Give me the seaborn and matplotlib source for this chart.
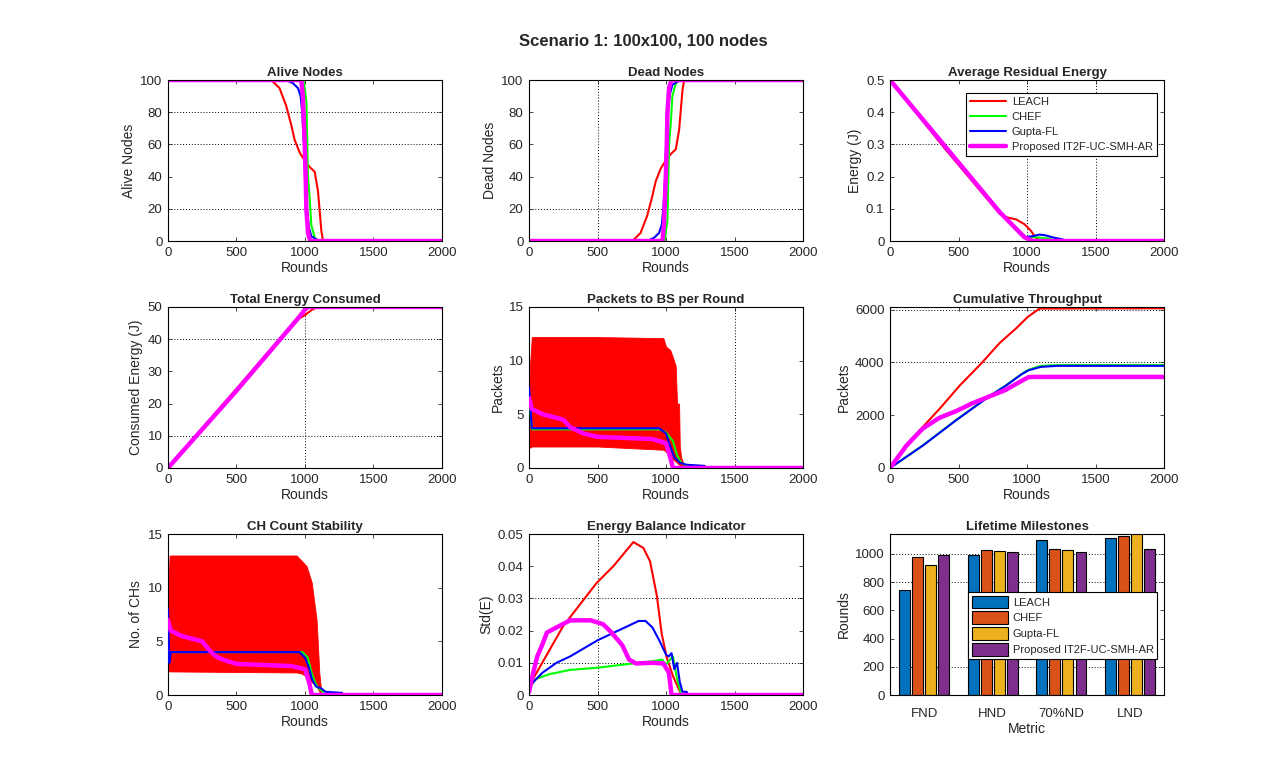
import pandas as pd
import matplotlib
matplotlib.use('Agg')
import matplotlib.pyplot as plt
from matplotlib.ticker import FuncFormatter
import seaborn as sns

protocols = ['LEACH', 'CHEF', 'Gupta-FL', 'Proposed IT2F-UC-SMH-AR']
line_colors = ['#FF0000', '#00FF00', '#0000FF', '#FF00FF']
line_widths = [1.5, 1.5, 1.5, 3.2]

# alive nodes (round, value)
alive_x = {
    'LEACH': [0, 753, 814, 863, 900, 924, 961, 998, 1034, 1071, 1083, 1095, 1108, 1120, 1132, 2000],
    'CHEF': [0, 990, 1010, 1022, 1034, 1046, 1071, 1100, 2000],
    'Gupta-FL': [0, 863, 912, 949, 968, 980, 993, 1000, 1010, 1030, 1046, 1083, 1108, 2000],
    'Proposed IT2F-UC-SMH-AR': [0, 973, 985, 998, 1005, 1010, 1022, 1039, 2000],
}
alive_y = {
    'LEACH': [100, 100, 95, 84, 72, 63, 55, 50, 46, 43, 37, 31, 18, 6, 0, 0],
    'CHEF': [100, 100, 87, 40, 27, 10, 2, 0, 0],
    'Gupta-FL': [100, 100, 98, 95, 90, 80, 60, 40, 20, 8, 3, 1, 0, 0],
    'Proposed IT2F-UC-SMH-AR': [100, 100, 90, 60, 40, 20, 5, 0, 0],
}
n_nodes = 100

# average residual energy per node (J)
resid_x = {
    'LEACH': [0, 400, 800, 848, 921, 982, 1030, 1054, 1079, 1100, 2000],
    'CHEF': [0, 400, 800, 990, 1050, 1150, 1200, 1230, 2000],
    'Gupta-FL': [0, 400, 800, 990, 1040, 1090, 1130, 1200, 1260, 1290, 2000],
    'Proposed IT2F-UC-SMH-AR': [0, 400, 800, 980, 1040, 2000],
}
resid_y = {
    'LEACH': [0.5, 0.287, 0.085, 0.074, 0.067, 0.052, 0.031, 0.015, 0.005, 0.0, 0.0],
    'CHEF': [0.5, 0.293, 0.093, 0.012, 0.012, 0.008, 0.003, 0.0, 0.0],
    'Gupta-FL': [0.5, 0.29, 0.09, 0.012, 0.015, 0.02, 0.018, 0.01, 0.005, 0.0, 0.0],
    'Proposed IT2F-UC-SMH-AR': [0.5, 0.295, 0.09, 0.012, 0.0, 0.0],
}

# total energy consumed (J)
total_x = {
    'LEACH': [0, 500, 900, 960, 1000, 1040, 1070, 1100, 2000],
    'CHEF': [0, 500, 950, 1000, 1020, 1040, 2000],
    'Gupta-FL': [0, 500, 950, 1000, 1020, 1040, 2000],
    'Proposed IT2F-UC-SMH-AR': [0, 500, 950, 1000, 1015, 1030, 2000],
}
total_y = {
    'LEACH': [0, 24.6, 44.2, 46.5, 47.5, 48.8, 49.6, 50, 50],
    'CHEF': [0, 24.2, 46.5, 49.0, 49.7, 50, 50],
    'Gupta-FL': [0, 24.3, 46.6, 49.0, 49.7, 50, 50],
    'Proposed IT2F-UC-SMH-AR': [0, 24.0, 46.5, 49.2, 49.9, 50, 50],
}

# packets to BS per round
pkt_x = {
    'CHEF': [0, 20, 300, 600, 950, 1000, 1050, 1080, 1110, 1150, 1200, 2000],
    'Gupta-FL': [0, 20, 300, 600, 950, 1000, 1030, 1060, 1100, 1150, 1280, 1290, 2000],
    'Proposed IT2F-UC-SMH-AR': [0, 20, 100, 250, 300, 400, 500, 700, 900, 1000, 1030, 1050, 2000],
}
pkt_y = {
    'CHEF': [7.0, 3.6, 3.6, 3.6, 3.6, 3.3, 2.5, 1.2, 0.5, 0.2, 0.0, 0.0],
    'Gupta-FL': [7.5, 3.7, 3.7, 3.7, 3.7, 3.2, 2.0, 1.0, 0.5, 0.3, 0.2, 0.0, 0.0],
    'Proposed IT2F-UC-SMH-AR': [6.5, 5.5, 5.0, 4.5, 3.8, 3.2, 2.9, 2.8, 2.7, 2.3, 1.0, 0.0, 0.0],
}
pkt_leach_x = [0, 10, 20, 500, 980, 1000, 1030, 1050, 1070, 1080, 1095, 1100, 1110, 1130, 1140, 2000]
pkt_leach_hi = [7.8, 10.2, 12.2, 12.2, 12.1, 11.3, 11.0, 10.3, 9.5, 6.0, 6.0, 2.0, 1.0, 0.3, 0.0, 0.0]
pkt_leach_lo = [1.9, 1.9, 2.0, 2.0, 1.7, 1.5, 1.0, 0.8, 0.6, 0.5, 0.3, 0.3, 0.1, 0.0, 0.0, 0.0]

# cumulative throughput
thr_x = {
    'LEACH': [0, 121, 364, 509, 667, 800, 921, 1006, 1091, 2000],
    'CHEF': [0, 240, 480, 720, 840, 960, 1010, 1100, 1220, 2000],
    'Gupta-FL': [0, 240, 480, 720, 840, 960, 1010, 1100, 1220, 2000],
    'Proposed IT2F-UC-SMH-AR': [0, 120, 240, 360, 480, 600, 720, 840, 960, 1010, 1040, 2000],
}
thr_y = {
    'LEACH': [0, 893, 2257, 3125, 3968, 4737, 5295, 5729, 6040, 6050],
    'CHEF': [0, 860, 1810, 2710, 3110, 3560, 3720, 3870, 3900, 3900],
    'Gupta-FL': [0, 850, 1800, 2700, 3100, 3550, 3700, 3830, 3870, 3870],
    'Proposed IT2F-UC-SMH-AR': [0, 850, 1500, 1900, 2150, 2450, 2700, 2950, 3300, 3440, 3450, 3450],
}

# cluster head count
ch_x = {
    'CHEF': [0, 980, 1020, 1050, 1080, 1110, 1150, 1200, 2000],
    'Gupta-FL': [0, 10, 20, 960, 1000, 1030, 1050, 1080, 1120, 1150, 1270, 1280, 2000],
    'Proposed IT2F-UC-SMH-AR': [0, 20, 100, 250, 300, 350, 400, 500, 700, 900, 1000, 1030, 1050, 2000],
}
ch_y = {
    'CHEF': [4, 4, 3.5, 2, 1, 0.5, 0.2, 0, 0],
    'Gupta-FL': [8, 3, 4, 4, 3.5, 2.5, 1.5, 0.8, 0.6, 0.3, 0.2, 0, 0],
    'Proposed IT2F-UC-SMH-AR': [7, 6, 5.5, 5, 4.2, 3.6, 3.3, 2.9, 2.8, 2.7, 2.4, 1.2, 0, 0],
}
ch_leach_x = [0, 12, 939, 976, 1012, 1049, 1085, 1105, 1122, 2000]
ch_leach_hi = [9.5, 13, 13, 12.5, 12, 10.5, 7, 2, 0, 0]
ch_leach_lo = [2.2, 2.2, 2.1, 2.0, 1.7, 1.2, 0.8, 0.3, 0, 0]

# energy balance (std of residual energy)
std_x = {
    'LEACH': [0, 29, 249, 493, 615, 761, 834, 883, 932, 968, 1005, 1054, 1102, 1110, 2000],
    'CHEF': [0, 50, 150, 300, 500, 700, 900, 970, 1000, 1030, 1050, 1080, 1100, 1110, 2000],
    'Gupta-FL': [0, 30, 100, 200, 300, 400, 500, 600, 700, 800, 850, 900, 950, 1000, 1020, 1040,
                 1060, 1080, 1100, 1120, 1150, 1160, 2000],
    'Proposed IT2F-UC-SMH-AR': [0, 25, 60, 100, 130, 200, 300, 450, 540, 600, 680, 730, 780, 900,
                                980, 1020, 1040, 2000],
}
std_y = {
    'LEACH': [0.002, 0.005, 0.0214, 0.0348, 0.04, 0.0475, 0.0457, 0.0415, 0.031, 0.019, 0.0116,
              0.0055, 0.001, 0.0, 0.0],
    'CHEF': [0.002, 0.005, 0.0065, 0.0078, 0.0085, 0.0095, 0.0105, 0.011, 0.0095, 0.011, 0.012,
             0.005, 0.002, 0.0, 0.0],
    'Gupta-FL': [0.002, 0.004, 0.007, 0.01, 0.012, 0.0145, 0.017, 0.019, 0.021, 0.023, 0.023, 0.021,
                 0.017, 0.0125, 0.012, 0.013, 0.008, 0.01, 0.004, 0.001, 0.001, 0.0, 0.0],
    'Proposed IT2F-UC-SMH-AR': [0.001, 0.006, 0.012, 0.016, 0.0194, 0.021, 0.0232, 0.0232, 0.022,
                                0.0195, 0.0155, 0.011, 0.0098, 0.01, 0.0098, 0.007, 0.0, 0.0],
}

# lifetime milestones
metrics = ['FND', 'HND', '70%ND', 'LND']
milestones = {
    'LEACH': [745, 995, 1100, 1112],
    'CHEF': [980, 1030, 1037, 1127],
    'Gupta-FL': [918, 1022, 1030, 1160],
    'Proposed IT2F-UC-SMH-AR': [988, 1015, 1015, 1037],
}
bar_colors = ['#0072BD', '#D95319', '#EDB120', '#7E2F8E']

sns.set_style('ticks', {'xtick.direction': 'in', 'ytick.direction': 'in',
                        'axes.edgecolor': 'black'})
plt.rcParams['font.family'] = ['Liberation Sans', 'DejaVu Sans']
plt.rcParams['font.size'] = 9.5
plt.rcParams['axes.linewidth'] = 0.8

fig = plt.figure(figsize=(12.86, 7.77), dpi=100)
fig.suptitle('Scenario 1: 100x100, 100 nodes', fontsize=12, fontweight='bold', y=0.957)

lefts = [0.1306, 0.4114, 0.6921]
bottoms = [0.6898, 0.3977, 0.1055]
w, h = 0.2131, 0.2072
axes = [[fig.add_axes([l, b, w, h]) for l in lefts] for b in bottoms]
plain = FuncFormatter(lambda v, p: '%g' % round(v, 6))


def style_axis(ax, title, ylabel, xlabel='Rounds'):
    ax.set_title(title, fontsize=9.5, fontweight='bold', pad=3)
    ax.set_ylabel(ylabel, fontsize=10, labelpad=3)
    ax.set_xlabel(xlabel, fontsize=10, labelpad=2)
    ax.tick_params(top=True, right=True, length=3, width=0.6, labelsize=9.5, pad=4)
    ax.yaxis.set_major_formatter(plain)
    for s in ax.spines.values():
        s.set_visible(True)
        s.set_color('black')


def rounds_axis(ax, ymax, yticks):
    ax.set_xlim(0, 2000)
    ax.set_xticks([0, 500, 1000, 1500, 2000])
    ax.set_ylim(0, ymax)
    ax.set_yticks(yticks)


def grid_lines(ax, hs=(), vs=()):
    for v in hs:
        ax.axhline(v, color='black', ls=(0, (1, 2)), lw=0.7, zorder=0)
    for v in vs:
        ax.axvline(v, color='black', ls=(0, (1, 2)), lw=0.7, zorder=0)


def draw_lines(ax, xs, ys, legend=False):
    for name, c, lw in zip(protocols, line_colors, line_widths):
        if name not in xs:
            continue
        sns.lineplot(x=xs[name], y=ys[name], ax=ax, color=c, linewidth=lw,
                     label=name if legend else None, legend=False)


# Alive nodes
ax = axes[0][0]
grid_lines(ax, hs=[20, 60, 80])
draw_lines(ax, alive_x, alive_y)
rounds_axis(ax, 100, [0, 20, 40, 60, 80, 100])
style_axis(ax, 'Alive Nodes', 'Alive Nodes')

# Dead nodes
ax = axes[0][1]
grid_lines(ax, hs=[20], vs=[500])
dead_y = {k: [n_nodes - v for v in vals] for k, vals in alive_y.items()}
draw_lines(ax, alive_x, dead_y)
rounds_axis(ax, 100, [0, 20, 40, 60, 80, 100])
style_axis(ax, 'Dead Nodes', 'Dead Nodes')

# Average residual energy
ax = axes[0][2]
grid_lines(ax, hs=[0.3], vs=[1000, 1500])
draw_lines(ax, resid_x, resid_y, legend=True)
rounds_axis(ax, 0.5, [0, 0.1, 0.2, 0.3, 0.4, 0.5])
style_axis(ax, 'Average Residual Energy', 'Energy (J)')
leg = ax.legend(loc='upper right', bbox_to_anchor=(0.993, 0.955), fontsize=8, handlelength=3.3,
                fancybox=False, framealpha=1, edgecolor='black', borderpad=0.35,
                labelspacing=0.45, handletextpad=0.5)
leg.get_frame().set_linewidth(0.8)

# Total energy consumed
ax = axes[1][0]
grid_lines(ax, hs=[10, 40], vs=[1000])
draw_lines(ax, total_x, total_y)
rounds_axis(ax, 50, [0, 10, 20, 30, 40, 50])
style_axis(ax, 'Total Energy Consumed', 'Consumed Energy (J)')

# Packets to BS per round
ax = axes[1][1]
grid_lines(ax, vs=[1500])
ax.fill_between(pkt_leach_x, pkt_leach_lo, pkt_leach_hi, color='#FF0000', lw=0.6, zorder=2)
draw_lines(ax, pkt_x, pkt_y)
for line in ax.lines:
    line.set_zorder(3)
rounds_axis(ax, 15, [0, 5, 10, 15])
style_axis(ax, 'Packets to BS per Round', 'Packets')

# Cumulative throughput
ax = axes[1][2]
grid_lines(ax, hs=[4000, 6000])
draw_lines(ax, thr_x, thr_y)
rounds_axis(ax, 6100, [0, 2000, 4000, 6000])
style_axis(ax, 'Cumulative Throughput', 'Packets')

# CH count stability
ax = axes[2][0]
ax.fill_between(ch_leach_x, ch_leach_lo, ch_leach_hi, color='#FF0000', lw=0.6, zorder=2)
draw_lines(ax, ch_x, ch_y)
for line in ax.lines:
    line.set_zorder(3)
rounds_axis(ax, 15, [0, 5, 10, 15])
style_axis(ax, 'CH Count Stability', 'No. of CHs')

# Energy balance indicator
ax = axes[2][1]
grid_lines(ax, hs=[0.01, 0.03], vs=[500])
draw_lines(ax, std_x, std_y)
rounds_axis(ax, 0.05, [0, 0.01, 0.02, 0.03, 0.04, 0.05])
style_axis(ax, 'Energy Balance Indicator', 'Std(E)')

# Lifetime milestones
ax = axes[2][2]
grid_lines(ax, hs=[200, 800, 1000])
bars = pd.DataFrame([(m, p, milestones[p][i]) for i, m in enumerate(metrics) for p in protocols],
                    columns=['Metric', 'Protocol', 'Rounds'])
sns.barplot(data=bars, x='Metric', y='Rounds', hue='Protocol', hue_order=protocols,
            palette=bar_colors, width=0.76, gap=0.18, edgecolor='black', linewidth=0.8,
            saturation=1, ax=ax, zorder=2)
ax.set_xlim(-0.5, 3.5)
ax.set_ylim(0, 1140)
ax.set_yticks([0, 200, 400, 600, 800, 1000])
style_axis(ax, 'Lifetime Milestones', 'Rounds', xlabel='Metric')
ax.tick_params(axis='x', length=0, pad=9)
leg = ax.legend(loc='lower left', bbox_to_anchor=(0.265, 0.19), fontsize=8, handlelength=3.3,
                handleheight=1.35, fancybox=False, framealpha=1, edgecolor='black',
                borderpad=0.3, labelspacing=0.3, handletextpad=0.4)
leg.get_frame().set_linewidth(0.8)

fig.savefig('out.png', dpi=100, facecolor='white')
